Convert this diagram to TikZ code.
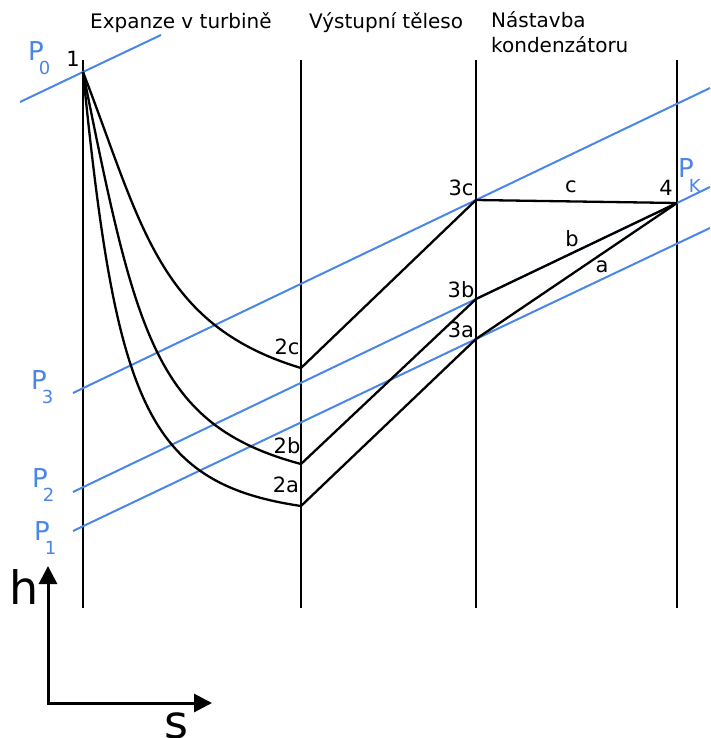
\documentclass[tikz,border=0pt]{standalone}
\usepackage{fontspec}
\setmainfont{DejaVu Sans}
\usetikzlibrary{arrows.meta}
\definecolor{IsoBlue}{HTML}{4A86E8}

\tikzset{
  wall/.style={line width=2.3pt},
  isobar/.style={IsoBlue, line width=2pt},
  proc/.style={line width=2.3pt, line join=round},
  ptlab/.style={inner sep=0pt, font=\fontsize{21}{21}\selectfont},
  headlab/.style={inner sep=0pt, anchor=base west, font=\fontsize{20}{25}\selectfont},
  plab/.style={inner sep=0pt, anchor=base west, text=IsoBlue, font=\fontsize{26}{26}\selectfont},
  axislab/.style={inner sep=0pt, font=\fontsize{46}{46}\selectfont},
  axis/.style={line width=3pt, {Triangle[length=18pt,width=18pt]}-{Triangle[length=18pt,width=18pt]}}
}
\newcommand{\psub}[1]{P\kern-5pt\raisebox{-14pt}{\fontsize{18}{18}\selectfont #1}}

\begin{document}
\begin{tikzpicture}[x=1pt,y=-1pt]
\useasboundingbox (0,0) rectangle (710,738);

% state points
\coordinate (p1) at (83,72);
\coordinate (p2c) at (301,368);
\coordinate (p2b) at (301,464);
\coordinate (p2a) at (301,506);
\coordinate (p3c) at (476,200);
\coordinate (p3b) at (476,299);
\coordinate (p3a) at (476,339);
\coordinate (p4) at (677,203);

% section walls
\foreach \x in {83,301,476,677}
  \draw[wall] (\x,60) -- (\x,608);

% isobars
\coordinate (iso0w) at (20,102);
\coordinate (iso0e) at (161,35);
\coordinate (iso3w) at (73,393);
\coordinate (iso3e) at (710,88);
\coordinate (iso2w) at (73,492);
\coordinate (iso2e) at (710,187);
\coordinate (iso1w) at (73,531);
\coordinate (iso1e) at (710,228);
\draw[isobar] (iso0w) -- (p1) -- (iso0e);
\draw[isobar] (iso3w) -- (p3c) -- (iso3e);
\draw[isobar] (iso2w) -- (p3b) -- (p4) -- (iso2e);
\draw[isobar] (iso1w) -- (p3a) -- (iso1e);

% expansion in the turbine
\draw[proc] (p1) .. controls (142,225) and (158,325) .. (p2c);
\draw[proc] (p1) .. controls (136,335) and (155,425) .. (p2b);
\draw[proc] (p1) .. controls (116,400) and (145,483) .. (p2a);

% exhaust hood and condenser neck
\draw[proc] (p2c) -- (p3c) -- (p4);
\draw[proc] (p2b) -- (p3b) -- (p4);
\draw[proc] (p2a) -- (p3a) -- (p4);

% headings
\node[headlab] (hturb) at (90,29) {Expanze v turbině};
\node[headlab] (hhood) at (309,29) {Výstupní těleso};
\node[headlab] (hcond) at (491,28) {Nástavba};
\node[headlab] (hcond2) at (491,53) {kondenzátoru};

% point labels
\node[ptlab] (l1) at (73,59) {1};
\node[ptlab] (l2c) at (287,347) {2c};
\node[ptlab] (l2b) at (287,446) {2b};
\node[ptlab] (l2a) at (286,485) {2a};
\node[ptlab] (l3c) at (461,188) {3c};
\node[ptlab] (l3b) at (461,290) {3b};
\node[ptlab] (l3a) at (461,330) {3a};
\node[ptlab] (l4) at (666,188) {4};
\node[ptlab] (lc) at (571,187) {c};
\node[ptlab] (lb) at (572,239) {b};
\node[ptlab] (la) at (602,267) {a};

% pressure labels
\node[plab] (P0) at (28,61) {\psub{0}};
\node[plab] (P3) at (31,389) {\psub{3}};
\node[plab] (P2) at (32,487) {\psub{2}};
\node[plab] (P1) at (34,540) {\psub{1}};
\node[plab] (PK) at (678,178) {\psub{K}};

% h-s axes
\coordinate (ax0) at (48,703);
\coordinate (axh) at (48,566);
\coordinate (axs) at (212,703);
\draw[axis] (axh) -- (ax0) -- (axs);
\node[axislab] (hlab) at (24,587) {h};
\node[axislab] (slab) at (176,726) {s};
\end{tikzpicture}
\end{document}
